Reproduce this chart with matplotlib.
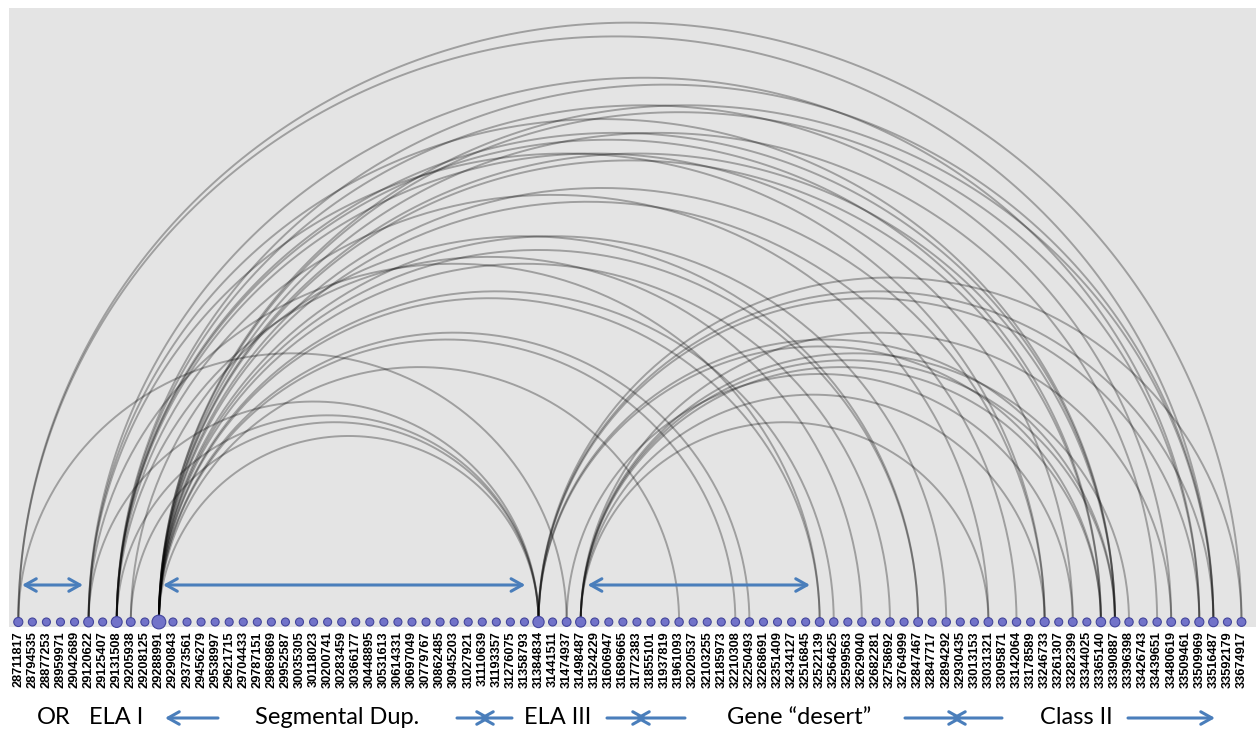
'''Arc diagram of linked positions along the chromosome segment.'''

import matplotlib
matplotlib.use('Agg')
from matplotlib import pyplot as plt
import numpy as np

# ----------------------------------------------------------------------------
# Data

positions = [
    '28711817', '28794535', '28877253', '28959971', '29042689', '29120622',
    '29125407', '29131508', '29205938', '29208125', '29288991', '29290843',
    '29373561', '29456279', '29538997', '29621715', '29704433', '29787151',
    '29869869', '29952587', '30035305', '30118023', '30200741', '30283459',
    '30366177', '30448895', '30531613', '30614331', '30697049', '30779767',
    '30862485', '30945203', '31027921', '31110639', '31193357', '31276075',
    '31358793', '31384834', '31441511', '31474937', '31498487', '31524229',
    '31606947', '31689665', '31772383', '31855101', '31937819', '31961093',
    '32020537', '32103255', '32185973', '32210308', '32250493', '32268691',
    '32351409', '32434127', '32516845', '32522139', '32564625', '32599563',
    '32629040', '32682281', '32758692', '32764999', '32847467', '32847717',
    '32894292', '32930435', '33013153', '33031321', '33095871', '33142064',
    '33178589', '33246733', '33261307', '33282399', '33344025', '33365140',
    '33390887', '33396398', '33426743', '33439651', '33480619', '33509461',
    '33509969', '33516487', '33592179', '33674917',
]

# links, as indices into positions
arc_from = [0, 0, 0,
            5, 5, 5, 5, 5,
            7, 7, 7, 7, 7, 7, 7, 7,
            8, 8,
            10, 10, 10, 10, 10, 10, 10, 10, 10, 10, 10, 10, 10, 10, 10, 10,
            37, 37, 37, 37, 37,
            39,
            40, 40, 40, 40, 40, 40]
arc_to = [87, 85, 39,
          84, 78, 73, 37, 57,
          85, 82, 78, 77, 75, 69, 37, 60,
          37, 64,
          37, 47, 51, 52, 57, 58, 62, 64, 66, 71, 73, 77, 78, 81, 84, 85,
          78, 84, 85, 77, 87,
          75,
          73, 77, 78, 82, 69, 79]

# spans marked with double arrows (node index ranges)
spans = [(0, 5), (10, 37), (40, 57)]

# region captions below the axis
captions = ['OR', 'ELA I', 'Segmental Dup.', 'ELA III',
            'Gene \u201cdesert\u201d', 'Class II']

# ----------------------------------------------------------------------------


def arc_plot():

    W, H = 1256, 732
    fig = plt.figure(figsize=(W / 100, H / 100), dpi=100)

    # axes placed so that node i sits at pixel 18.3 + 14.06 * i
    unit = (1241.5 - 18.3) / 87
    ax = fig.add_axes([9 / W, (H - 627) / H, (W - 9) / W, (627 - 8) / H])
    ax.set_xlim(-(18.3 - 9) / unit, 87 + (W - 1241.5) / unit)
    ax.set_ylim(-(627 - 622) / unit, (622 - 8) / unit)
    ax.set_facecolor('#e4e4e4')
    for s in ax.spines.values():
        s.set_visible(False)

    n = len(positions)
    x = np.arange(n)

    # arcs
    theta = np.linspace(0, np.pi, 200)
    for a, b in zip(arc_from, arc_to):
        c = (a + b) / 2
        r = (b - a) / 2
        ax.plot(c + r * np.cos(theta), 0.98 * r * np.sin(theta),
                color='black', alpha=0.3, lw=1.4, solid_capstyle='butt',
                zorder=2)

    # nodes sized by degree
    degree = np.zeros(n)
    for a, b in zip(arc_from, arc_to):
        degree[a] += 1
        degree[b] += 1
    diam_px = 8 + 0.36 * degree
    ax.scatter(x, np.zeros(n), s=(diam_px * 0.72) ** 2, color='#7273c9',
               edgecolor='#43459c', linewidth=0.8, zorder=3, clip_on=False)

    ax.set_xticks(x)
    ax.set_xticklabels(positions, rotation=90, fontsize=9.2,
                       fontweight='bold', family='Liberation Sans')
    ax.tick_params(axis='x', length=0, pad=3)
    ax.set_yticks([])

    # double arrows above the baseline
    blue = '#4a7ebb'
    y_arr = (622 - 585) / unit
    shrinks = [(2.7, 4.0), (3.0, 9.5), (5.0, 7.0)]
    for (a, b), (sa, sb) in zip(spans, shrinks):
        ax.annotate('', xy=(b, y_arr), xytext=(a, y_arr),
                    arrowprops=dict(arrowstyle='<->,head_length=0.8,'
                                    'head_width=0.45', color=blue, lw=2.2,
                                    shrinkA=sa, shrinkB=sb))

    # caption row
    font = dict(family='Lato', fontsize=17, color='black', va='center',
                ha='center')
    yc = 14
    cx = [54, 116, 337, 558, 799, 1076]
    for txt, xc in zip(captions, cx):
        fig.text(xc / W, yc / H, txt, **font)

    def arrow(x0, x1):
        ax.annotate('', xy=(x1, yc), xytext=(x0, yc),
                    xycoords='figure pixels', textcoords='figure pixels',
                    arrowprops=dict(arrowstyle='->,head_length=0.8,'
                                    'head_width=0.45', color=blue, lw=2.2,
                                    shrinkA=0, shrinkB=0))

    arrow(218, 165)
    # converging arrows whose heads cross
    for x0, xm, x1 in [(457, 485, 512), (607, 641, 685), (905, 957, 1002)]:
        arrow(x0, xm + 6)
        arrow(x1, xm - 6)
    arrow(1128, 1215)

    fig.savefig('out.png', dpi=100)

    return None

# ----------------------------------------------------------------------------


def main():

    arc_plot()

    return None

# ----------------------------------------------------------------------------


if __name__ == "__main__":
    main()
